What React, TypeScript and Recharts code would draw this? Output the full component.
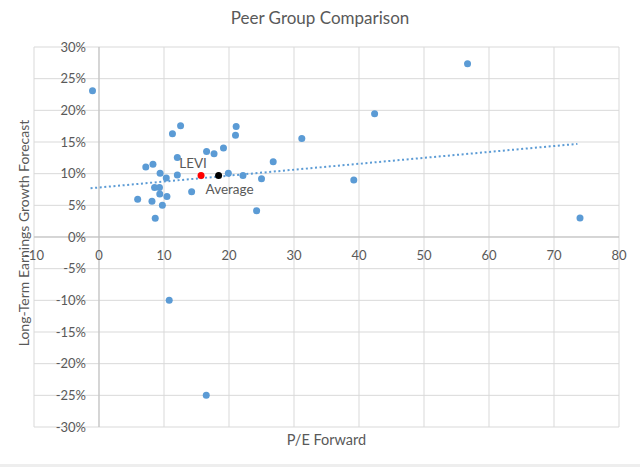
import {
  ScatterChart,
  Scatter,
  XAxis,
  YAxis,
  CartesianGrid,
  ReferenceDot,
  ReferenceLine,
} from "recharts";

// peers: P/E forward vs long-term growth forecast (%)
const peerPE = [
  -1.0, 5.95, 7.2, 8.3, 8.15, 8.55, 9.3, 9.35, 8.65, 9.4, 9.75, 10.35, 10.45,
  11.3, 12.55, 12.05, 12.05, 14.25, 16.55, 17.7, 19.15, 19.9, 21.1, 21.0, 22.15,
  24.25, 25.0, 26.8, 31.2, 39.2, 42.4, 56.7, 74.0, 10.8, 16.5,
];
const peerGrowth = [
  23.1, 5.95, 11.05, 11.5, 5.65, 7.8, 7.8, 6.8, 2.95, 10.05, 5.0, 9.3, 6.4,
  16.3, 17.55, 12.55, 9.8, 7.15, 13.5, 13.15, 14.05, 10.05, 17.45, 16.05, 9.7,
  4.15, 9.2, 11.9, 15.55, 9.0, 19.45, 27.35, 3.0, -10.0, -25.0,
];

const levi = [{ x: 15.7, y: 9.7 }];
const average = [{ x: 18.4, y: 9.7 }];

// dotted trendline end points as drawn
const trendPE = [-1.3, 73.6];
const trendGrowth = [7.7, 14.7];

const xTicks = [-10, 0, 10, 20, 30, 40, 50, 60, 70, 80];
const yTicks = [30, 25, 20, 15, 10, 5, 0, -5, -10, -15, -20, -25, -30];

const peers = peerPE.map((x, i) => ({ x, y: peerGrowth[i] }));
const trend = trendPE.map((x, i) => ({ x, y: trendGrowth[i] }));

const FONT = "Lato, 'Open Sans', sans-serif";
const TEXT = "#595959";

const dot = (color: string) => (p: any) =>
  <circle cx={p.cx} cy={p.cy} r={3.5} fill={color} />;

export default function App() {
  return (
    <div
      style={{
        position: "absolute",
        left: 0,
        top: 0,
        width: 640,
        height: 468,
        background: "#fff",
        fontFamily: FONT,
        color: TEXT,
      }}
    >
      <div
        style={{
          position: "absolute",
          top: 7,
          left: 0,
          width: 640,
          textAlign: "center",
          fontSize: 17,
        }}
      >
        Peer Group Comparison
      </div>
      <div
        style={{
          position: "absolute",
          top: 431,
          left: 34,
          width: 585,
          textAlign: "center",
          fontSize: 14.5,
        }}
      >
        P/E Forward
      </div>
      <div
        style={{
          position: "absolute",
          left: 23,
          top: 233,
          transform: "translate(-50%, -50%) rotate(-90deg)",
          whiteSpace: "nowrap",
          fontSize: 14,
        }}
      >
        Long-Term Earnings Growth Forecast
      </div>
      <div
        style={{
          position: "absolute",
          left: 0,
          top: 464,
          width: 640,
          height: 3,
          background: "#eeeeee",
        }}
      />

      <ScatterChart
        width={640}
        height={468}
        margin={{ top: 47, right: 21, bottom: 41, left: 34 }}
        style={{ position: "absolute", left: 0, top: 0 }}
      >
        <CartesianGrid
          stroke="#d9d9d9"
          horizontalValues={yTicks}
          verticalValues={xTicks}
        />
        <XAxis
          type="number"
          dataKey="x"
          domain={[-10, 80]}
          ticks={xTicks}
          hide
        />
        <YAxis
          type="number"
          dataKey="y"
          domain={[-30, 30]}
          ticks={yTicks}
          hide
        />
        <ReferenceLine x={0} stroke="#bfbfbf" />
        <ReferenceLine y={0} stroke="#bfbfbf" />

        {xTicks.map((t) => (
          <ReferenceDot
            key={"x" + t}
            x={t}
            y={0}
            r={0}
            fill="none"
            stroke="none"
            label={{
              value: String(t),
              position: "bottom",
              offset: 14,
              fill: TEXT,
              fontSize: 13,
              fontFamily: FONT,
            }}
          />
        ))}
        {yTicks.map((t) => (
          <ReferenceDot
            key={"y" + t}
            x={0}
            y={t}
            r={0}
            fill="none"
            stroke="none"
            label={{
              value: t + "%",
              position: "left",
              offset: 13,
              fill: TEXT,
              fontSize: 13,
              fontFamily: FONT,
            }}
          />
        ))}

        <Scatter
          data={trend}
          isAnimationActive={false}
          line={{
            stroke: "#5B9BD5",
            strokeWidth: 2,
            strokeDasharray: "2 2.6",
          }}
          shape={() => <g />}
        />
        <Scatter data={peers} isAnimationActive={false} shape={dot("#5B9BD5")} />
        <Scatter data={levi} isAnimationActive={false} shape={dot("#FF0000")} />
        <Scatter data={average} isAnimationActive={false} shape={dot("#000000")} />

        <ReferenceDot
          x={levi[0].x}
          y={levi[0].y}
          r={0}
          fill="none"
          stroke="none"
          label={{
            content: ({ viewBox }: any) => (
              <text
                x={viewBox.x - 8}
                y={viewBox.y - 13}
                textAnchor="middle"
                dominantBaseline="central"
                fill={TEXT}
                fontSize={13.5}
                fontFamily={FONT}
              >
                LEVI
              </text>
            ),
          }}
        />
        <ReferenceDot
          x={average[0].x}
          y={average[0].y}
          r={0}
          fill="none"
          stroke="none"
          label={{
            content: ({ viewBox }: any) => (
              <text
                x={viewBox.x + 11}
                y={viewBox.y + 13}
                textAnchor="middle"
                dominantBaseline="central"
                fill={TEXT}
                fontSize={13.5}
                fontFamily={FONT}
              >
                Average
              </text>
            ),
          }}
        />
      </ScatterChart>
    </div>
  );
}
